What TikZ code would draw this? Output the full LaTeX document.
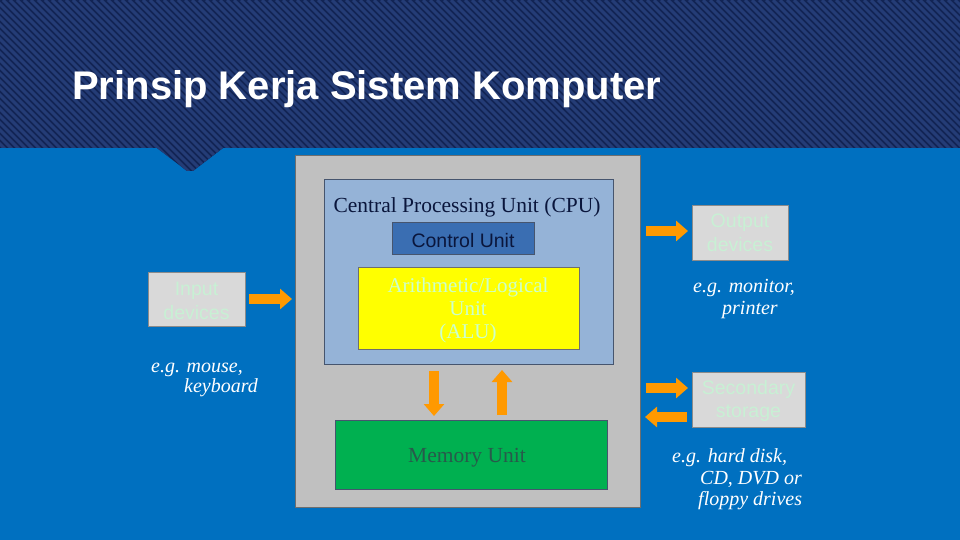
\documentclass[tikz,border=0pt]{standalone}
\usepackage{fontspec}
\setmainfont{Liberation Serif}
\setsansfont{Liberation Sans}
\usetikzlibrary{arrows.meta}
\definecolor{navy}{RGB}{18,36,84}
\definecolor{navystripe}{RGB}{36,60,118}
\definecolor{bgblue}{RGB}{0,112,192}
\definecolor{grayfill}{RGB}{192,192,192}
\definecolor{grayedge}{RGB}{110,110,110}
\definecolor{cpufill}{RGB}{149,179,215}
\definecolor{cpuedge}{RGB}{70,85,110}
\definecolor{cufill}{RGB}{58,110,178}
\definecolor{cutext}{RGB}{10,22,60}
\definecolor{alufill}{RGB}{255,255,0}
\definecolor{palegreen}{RGB}{204,255,204}
\definecolor{memfill}{RGB}{0,176,80}
\definecolor{memtext}{RGB}{40,90,75}
\definecolor{iofill}{RGB}{217,217,217}
\definecolor{iotext}{RGB}{200,240,212}
\definecolor{orng}{RGB}{255,153,0}
\tikzset{
  box/.style={draw, line width=1pt, inner sep=0pt, anchor=north west},
  iobox/.style={box, fill=iofill, draw=grayedge!80},
  iotxt/.style={anchor=base, inner sep=0pt, text=iotext, font=\sffamily\fontsize{19.5}{24}\selectfont},
  alutxt/.style={anchor=base, inner sep=0pt, text=palegreen, font=\fontsize{21}{23.5}\selectfont},
  ital/.style={text=white, font=\itshape\fontsize{20}{21}\selectfont, anchor=base west, inner sep=0pt},
  orarrow/.style={draw=orng, line width=9.5pt, -{Triangle[width=20pt,length=12pt]}}
}
\begin{document}
\begin{tikzpicture}[x=1pt,y=-1pt]
\useasboundingbox (0,0) rectangle (960,540);
% background
\fill[bgblue] (0,0) rectangle (960,540);
\fill[navy] (0,0) -- (960,0) -- (960,148) -- (223,148) -- (193,171) -- (187,171) -- (157,148) -- (0,148) -- cycle;
\begin{scope}
\clip (0,0) -- (960,0) -- (960,148) -- (223,148) -- (193,171) -- (187,171) -- (157,148) -- (0,148) -- cycle;
\foreach \i in {-200,-193,...,960} \draw[navystripe, line width=3pt] (\i,0) -- ++(180,180);
\end{scope}
\node[anchor=base west, inner sep=0pt, text=white, font=\sffamily\bfseries\fontsize{40}{48}\selectfont] (title) at (72,100) {Prinsip Kerja Sistem Komputer};

% main boxes
\node[box, fill=grayfill, draw=grayedge, minimum width=345pt, minimum height=352pt] (gray) at (295,155) {};
\node[box, fill=cpufill, draw=cpuedge, minimum width=289pt, minimum height=185pt] (cpu) at (324,179) {};
\node[anchor=base, inner sep=0pt, text=cutext, font=\fontsize{21.5}{26}\selectfont] (cputitle) at (467,212) {Central Processing Unit (CPU)};
\node[box, fill=cufill, draw=cpuedge, minimum width=142pt, minimum height=32pt] (cu) at (392,222) {};
\node[anchor=base, inner sep=0pt, text=cutext, font=\sffamily\fontsize{19.5}{24}\selectfont] (cutxt) at (463,247) {Control Unit};
\node[box, fill=alufill, draw=grayedge, minimum width=221pt, minimum height=82pt] (alu) at (358,267) {};
\node[alutxt] (alu1) at (468,292) {Arithmetic/Logical};
\node[alutxt] (alu2) at (468,315) {Unit};
\node[alutxt] (alu3) at (468,338) {(ALU)};
\node[box, fill=memfill, draw=cpuedge, minimum width=272pt, minimum height=69pt] (mem) at (335,420) {};
\node[anchor=base, inner sep=0pt, text=memtext, font=\fontsize{21.5}{26}\selectfont] (memtxt) at (467,462) {Memory Unit};

% peripheral boxes
\node[iobox, minimum width=97pt, minimum height=54pt] (inbox) at (148,272) {};
\node[iotxt] (in1) at (196.5,295) {Input};
\node[iotxt] (in2) at (196.5,319) {devices};
\node[iobox, minimum width=96pt, minimum height=55pt] (outbox) at (692,205) {};
\node[iotxt] (out1) at (740,227) {Output};
\node[iotxt] (out2) at (740,251) {devices};
\node[iobox, minimum width=113pt, minimum height=55pt] (secbox) at (692,372) {};
\node[iotxt] (sec1) at (748.5,394) {Secondary};
\node[iotxt] (sec2) at (748.5,417) {storage};

% italic notes
\node[ital] (n1a) at (151,372) {e.g. mouse,};
\node[ital] (n1b) at (184,392) {keyboard};
\node[ital] (n2a) at (693,292) {e.g. monitor,};
\node[ital] (n2b) at (722,314) {printer};
\node[ital] (n3a) at (672,462) {e.g. hard disk,};
\node[ital] (n3b) at (700,484) {CD, DVD or};
\node[ital] (n3c) at (698,505) {floppy drives};

% arrows
\coordinate (inA) at (249,299);
\coordinate (inB) at (292,299);
\coordinate (outA) at (646,231);
\coordinate (outB) at (688,231);
\coordinate (secA) at (646,388);
\coordinate (secB) at (688,388);
\coordinate (secC) at (687,417);
\coordinate (secD) at (645,417);
\coordinate (dnA) at (434,371);
\coordinate (dnB) at (434,416);
\coordinate (upA) at (502,415);
\coordinate (upB) at (502,370);
\draw[orarrow] (inA) -- (inB);
\draw[orarrow] (outA) -- (outB);
\draw[orarrow] (secA) -- (secB);
\draw[orarrow] (secC) -- (secD);
\draw[orarrow] (dnA) -- (dnB);
\draw[orarrow] (upA) -- (upB);
\end{tikzpicture}
\end{document}
